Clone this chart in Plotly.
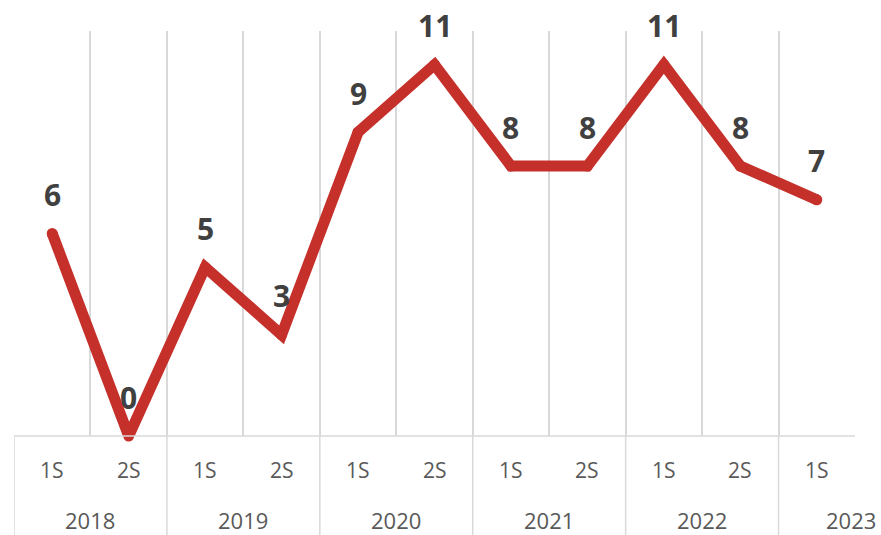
import plotly.graph_objects as go

years = ["2018", "2019", "2020", "2021", "2022", "2023"]
halves = ["1S", "2S", "1S", "2S", "1S", "2S", "1S", "2S", "1S", "2S", "1S"]
values = [6, 0, 5, 3, 9, 11, 8, 8, 11, 8, 7]
year_centers = [0.5, 2.5, 4.5, 6.5, 8.5, 10.45]
year_bounds = [-0.5, 1.5, 3.5, 5.5, 7.5, 9.5]

x = list(range(len(values)))
red = "#C5302B"
grid = "#D9D9D9"
xmin, xmax = -0.5, 10.5

fig = go.Figure()
fig.add_trace(go.Scatter(
    x=x, y=values, mode="lines+markers",
    line=dict(color=red, width=11),
    marker=dict(color=red, size=11),
    cliponaxis=False, hoverinfo="skip", showlegend=False,
))

ann = []
for xi, v in zip(x, values):
    ann.append(dict(x=xi, y=v, xref="x", yref="y", text=f"<b>{v}</b>",
                    showarrow=False, yshift=39, yanchor="middle", xanchor="center",
                    font=dict(family="Open Sans", size=30, color="#404040")))
for xi, h in zip(x, halves):
    ann.append(dict(x=(xi - xmin) / (xmax - xmin), y=0, xref="paper", yref="paper",
                    text=h, showarrow=False, yshift=-34, yanchor="middle", xanchor="center",
                    font=dict(family="Open Sans", size=21, color="#595959")))
for xc, yr in zip(year_centers, years):
    ann.append(dict(x=(xc - xmin) / (xmax - xmin), y=0, xref="paper", yref="paper",
                    text=yr, showarrow=False, yshift=-84, yanchor="middle", xanchor="center",
                    font=dict(family="Open Sans", size=22, color="#595959")))

shapes = []
for b in year_bounds:
    shapes.append(dict(type="line", xref="x", yref="paper", x0=b, x1=b,
                       y0=0, y1=-0.25, line=dict(color=grid, width=1.5)))
shapes.append(dict(type="line", xref="x", yref="paper", x0=xmin, x1=xmax,
                   y0=0, y1=0, line=dict(color=grid, width=1.5)))

fig.update_layout(
    width=881, height=535,
    margin=dict(l=14, r=26, t=31, b=99),
    paper_bgcolor="white", plot_bgcolor="white",
    xaxis=dict(range=[xmin, xmax], tickmode="linear", tick0=xmin, dtick=1,
               showgrid=True, gridcolor=grid, gridwidth=1.5,
               showticklabels=False, zeroline=False, showline=False, ticks=""),
    yaxis=dict(range=[0, 12], showgrid=False, zeroline=False,
               showticklabels=False, showline=False, ticks=""),
    annotations=ann, shapes=shapes,
)

fig.write_html("out.html", config={"displayModeBar": False},
               post_script="document.body.style.margin='0';document.body.style.overflow='hidden';")
